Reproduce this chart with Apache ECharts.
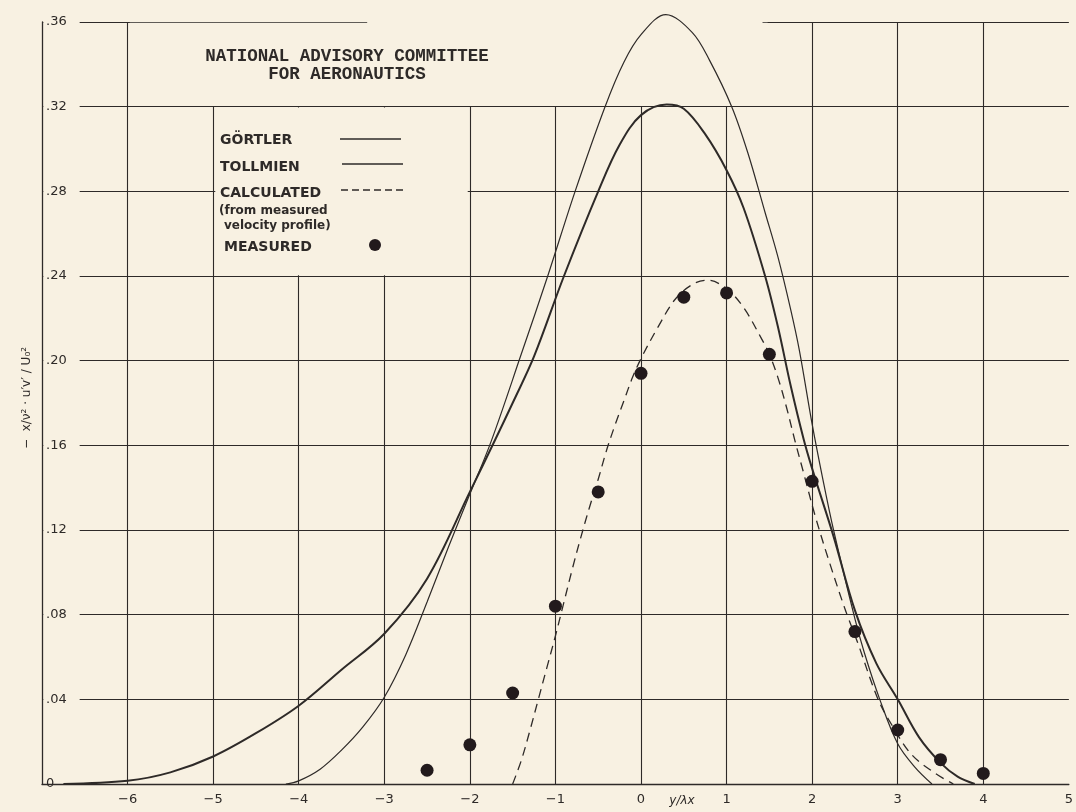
<!DOCTYPE html>
<html><head><meta charset="utf-8">
<script src="https://cdn.jsdelivr.net/npm/echarts@6/dist/echarts.min.js"></script>
<style>html,body{margin:0;padding:0;background:#f8f1e2;}#c{width:1076px;height:812px;}</style>
</head><body><div id="c"></div>
<script>
// ---- data ----
const xTickValues = [-6,-5,-4,-3,-2,-1,0,1,2,3,4,5];
const yTickValues = [0,0.04,0.08,0.12,0.16,0.20,0.24,0.28,0.32,0.36];

const gortler = [[-6.75,0],[-6.0,0.0015],[-5.5,0.0055],[-5.0,0.013],[-4.5,0.024],[-4.0,0.037],[-3.5,0.054],[-3.0,0.071],[-2.5,0.097],[-2.0,0.138],[-1.7,0.163],[-1.5,0.180],[-1.25,0.202],[-0.9,0.240],[-0.5,0.280],[-0.25,0.302],[0.0,0.316],[0.3,0.321],[0.5,0.319],[0.75,0.307],[1.0,0.290],[1.2,0.272],[1.45,0.240],[1.6,0.216],[1.75,0.188],[1.9,0.163],[2.0,0.149],[2.25,0.117],[2.5,0.082],[2.75,0.057],[3.0,0.040],[3.25,0.022],[3.5,0.010],[3.7,0.0035],[3.9,0]];

const tollmien = [[-4.15,0],[-4.0,0.0015],[-3.75,0.007],[-3.5,0.016],[-3.25,0.027],[-3.0,0.041],[-2.75,0.061],[-2.5,0.086],[-2.25,0.112],[-2.0,0.137],[-1.75,0.162],[-1.4,0.203],[-1.09,0.240],[-0.77,0.280],[-0.42,0.320],[-0.2,0.341],[0.0,0.354],[0.29,0.3635],[0.6,0.355],[0.8,0.342],[1.06,0.320],[1.25,0.298],[1.45,0.270],[1.6,0.249],[1.75,0.224],[1.85,0.205],[2.0,0.170],[2.12,0.145],[2.25,0.120],[2.5,0.078],[2.61,0.062],[2.79,0.040],[3.0,0.019],[3.2,0.008],[3.4,0]];

const calculated = [[-1.5,0],[-1.4,0.011],[-1.3,0.025],[-1.2,0.040],[-1.1,0.055],[-1.0,0.070],[-0.9,0.086],[-0.8,0.102],[-0.7,0.117],[-0.6,0.131],[-0.5,0.144],[-0.4,0.158],[-0.3,0.170],[-0.2,0.181],[-0.1,0.192],[0.0,0.201],[0.2,0.216],[0.4,0.229],[0.6,0.236],[0.78,0.238],[1.0,0.234],[1.2,0.225],[1.4,0.211],[1.5,0.203],[1.6,0.192],[1.7,0.178],[1.8,0.162],[1.9,0.147],[2.04,0.126],[2.2,0.105],[2.39,0.082],[2.53,0.067],[2.77,0.040],[2.93,0.028],[3.16,0.014],[3.44,0.005],[3.65,0]];

const measuredX = [-2.5,-2,-1.5,-1,-0.5,0,0.5,1,1.5,2,2.5,3,3.5,4];
const measuredY = [0.0065,0.0185,0.043,0.084,0.138,0.194,0.230,0.232,0.203,0.143,0.072,0.0255,0.0115,0.005];

const legendNames = ['GÖRTLER','TOLLMIEN','CALCULATED','MEASURED'];
const titleLines = ['NATIONAL ADVISORY COMMITTEE','FOR AERONAUTICS'];
const xAxisTitle = 'y/λx';
const yAxisTitle = '−  x/ν² · u′v′ / U₀²';

// ---- chart ----
const BG = '#f8f1e2';
const INK = '#2e2a28';
const DOT = '#221a1c';
const fmtY = v => v === 0 ? '0' : '.' + String(Math.round(v * 100)).padStart(2, '0');
const fmtX = v => (v < -6.5) ? '' : (v < 0 ? '−' + (-v) : String(v));
const measured = measuredX.map((x, i) => [x, measuredY[i]]);

const chart = echarts.init(document.getElementById('c'));
const gridLine = { color: INK, width: 1.1 };
const legendFont = 'bold 14px "DejaVu Sans"';
const G = (o) => Object.assign({ z: 100 }, o);
const option = {
  backgroundColor: BG,
  animation: false,
  grid: { left: 42, right: 6, top: 22, bottom: 28 },
  xAxis: {
    type: 'value', min: -7, max: 5, interval: 1,
    axisLine: { show: true, onZero: false, lineStyle: { color: INK, width: 1.3 } },
    axisTick: { show: false },
    axisLabel: { margin: 9, color: INK, fontFamily: 'DejaVu Sans', fontSize: 13, formatter: fmtX, showMinLabel: true, showMaxLabel: true },
    splitLine: { show: true, showMinLine: false, showMaxLine: false, lineStyle: gridLine }
  },
  yAxis: [
    {
      type: 'value', min: 0, max: 0.36, interval: 0.04,
      axisLine: { show: false }, axisTick: { show: false }, axisLabel: { show: false },
      splitLine: { show: true, showMinLine: false, lineStyle: gridLine }
    },
    {
      type: 'value', min: 0, max: 0.36, interval: 0.04, position: 'left', z: 5,
      axisLine: { show: true, lineStyle: { color: INK, width: 1.3 } },
      axisTick: { show: false },
      axisLabel: { inside: true, margin: 4, color: INK, fontFamily: 'DejaVu Sans', fontSize: 13, formatter: fmtY },
      splitLine: { show: false }
    }
  ],
  series: [
    {
      type: 'line', data: [], z: 1, silent: true, clip: false, symbol: 'none',
      markArea: {
        silent: true,
        itemStyle: { color: BG, opacity: 1, borderWidth: 0 },
        label: { show: false },
        data: [
          [{ coord: [-6.985, 0.0008] }, { coord: [-6.56, 0.3612] }],
          [{ coord: [-5.975, 0.3203] }, { coord: [1.48, 0.3597] }],
          [{ coord: [-3.2, 0.3590] }, { coord: [1.42, 0.3615] }],
          [{ coord: [-4.975, 0.2404] }, { coord: [-2.025, 0.3196] }]
        ]
      }
    },
    { name: legendNames[0], type: 'line', data: gortler, smooth: 0.35, symbol: 'none', clip: false, z: 3, lineStyle: { color: INK, width: 2 } },
    { name: legendNames[1], type: 'line', data: tollmien, smooth: 0.35, symbol: 'none', clip: false, z: 3, lineStyle: { color: INK, width: 1.2 } },
    { name: legendNames[2], type: 'line', data: calculated, smooth: 0.35, symbol: 'none', clip: false, z: 3, lineStyle: { color: INK, width: 1.3, type: [9, 6] } },
    { name: legendNames[3], type: 'scatter', data: measured, symbol: 'circle', symbolSize: 13, z: 4, itemStyle: { color: DOT, opacity: 1 } }
  ],
  graphic: [
    G({ type: 'text', x: 347, y: 57, style: { text: titleLines[0], font: 'bold 17.5px "Liberation Mono"', fill: INK, textAlign: 'center', textVerticalAlign: 'middle' } }),
    G({ type: 'text', x: 347, y: 75, style: { text: titleLines[1], font: 'bold 17.5px "Liberation Mono"', fill: INK, textAlign: 'center', textVerticalAlign: 'middle' } }),
    G({ type: 'text', x: 220, y: 140, style: { text: legendNames[0], font: legendFont, fill: INK, textVerticalAlign: 'middle' } }),
    G({ type: 'line', shape: { x1: 340, y1: 139, x2: 401, y2: 139 }, style: { stroke: INK, lineWidth: 1.5 } }),
    G({ type: 'text', x: 220, y: 167, style: { text: legendNames[1], font: legendFont, fill: INK, textVerticalAlign: 'middle' } }),
    G({ type: 'line', shape: { x1: 342, y1: 164, x2: 403, y2: 164 }, style: { stroke: INK, lineWidth: 1.5 } }),
    G({ type: 'text', x: 220, y: 193, style: { text: legendNames[2], font: legendFont, fill: INK, textVerticalAlign: 'middle' } }),
    G({ type: 'line', shape: { x1: 341, y1: 190, x2: 406, y2: 190 }, style: { stroke: INK, lineWidth: 1.3, lineDash: [7, 4] } }),
    G({ type: 'text', x: 219, y: 211, style: { text: '(from measured', font: 'bold 12px "DejaVu Sans"', fill: INK, textVerticalAlign: 'middle' } }),
    G({ type: 'text', x: 224, y: 226, style: { text: 'velocity profile)', font: 'bold 12px "DejaVu Sans"', fill: INK, textVerticalAlign: 'middle' } }),
    G({ type: 'text', x: 224, y: 247, style: { text: legendNames[3], font: legendFont, fill: INK, textVerticalAlign: 'middle' } }),
    G({ type: 'circle', shape: { cx: 375, cy: 245, r: 6 }, style: { fill: DOT } }),
    G({ type: 'text', x: 682, y: 801, style: { text: xAxisTitle, font: 'italic 12px "DejaVu Sans"', fill: INK, textAlign: 'center', textVerticalAlign: 'middle' } }),
    G({ type: 'text', x: 27, y: 398, rotation: Math.PI / 2, style: { text: yAxisTitle, font: '12px "DejaVu Sans"', fill: INK, textAlign: 'center', textVerticalAlign: 'middle' } })
  ]
};
chart.setOption(option);
</script></body></html>
